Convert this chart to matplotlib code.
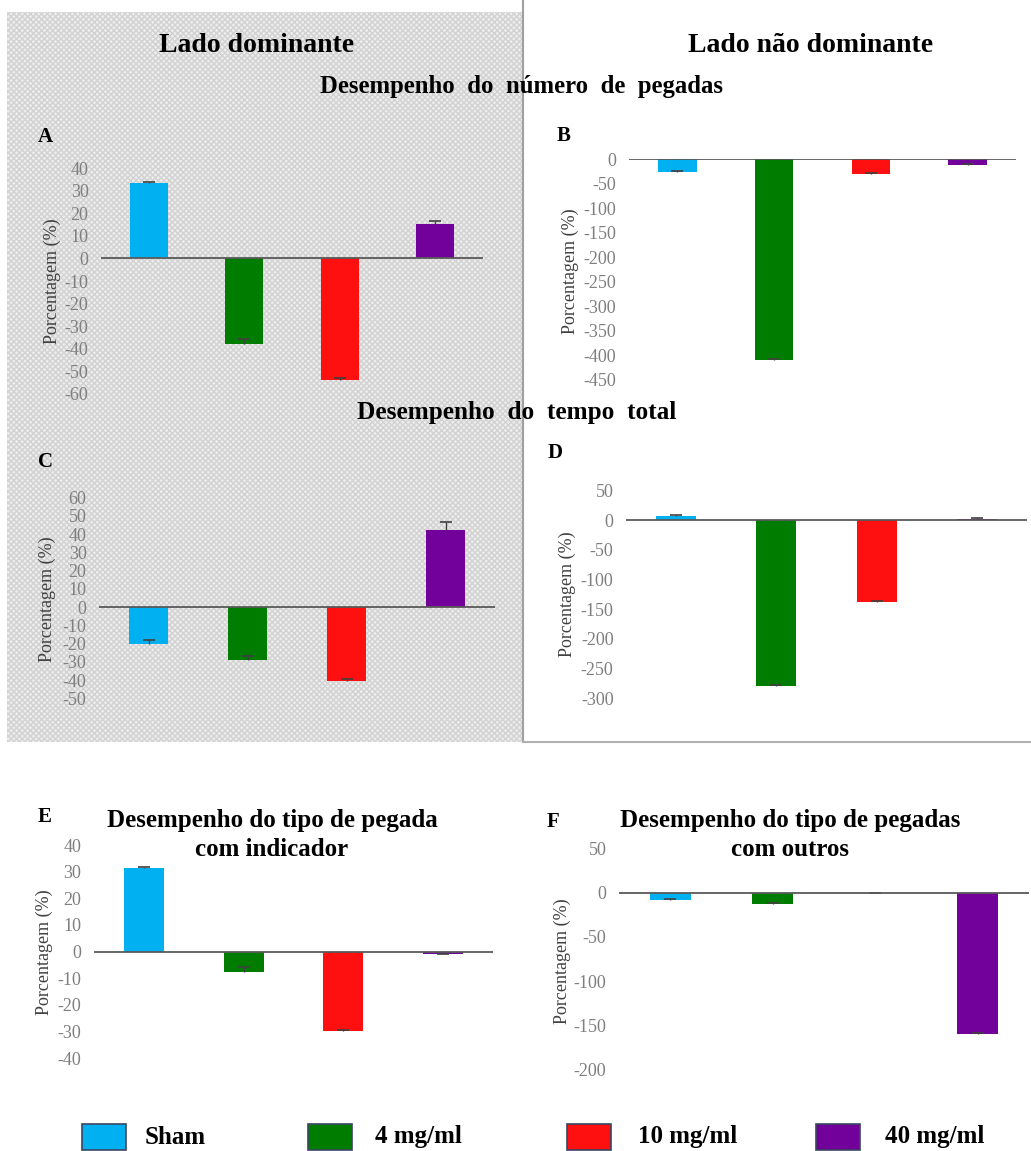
import matplotlib
matplotlib.use("Agg")
import matplotlib.pyplot as plt
from matplotlib.patches import Rectangle
from matplotlib.lines import Line2D
import numpy as np

# ---------------- data ----------------
groups = ["Sham", "4 mg/ml", "10 mg/ml", "40 mg/ml"]
colors = ["#00B0F0", "#007D00", "#FF1010", "#72009A"]

vals_A = [33.3, -37.8, -54.0, 15.4]
err_A = [0.5, 2.0, 1.0, 1.0]
vals_B = [-25.8, -409.0, -31.0, -12.2]
err_B = [2.0, 2.0, 2.0, 2.0]
vals_C = [-20.1, -29.2, -40.6, 42.4]
err_C = [1.8, 2.2, 1.0, 4.2]
vals_D = [7.2, -279.5, -137.5, 2.8]
err_D = [2.0, 2.0, 2.0, 1.0]
vals_E = [31.4, -7.7, -29.7, -1.0]
err_E = [0.5, 2.1, 0.4, 0.3]
vals_F = [-8.3, -13.1, -0.5, -159.7]
err_F = [1.0, 1.0, 0.5, 1.0]

ticks_A = list(range(-60, 41, 10))
ticks_B = list(range(-450, 1, 50))
ticks_C = list(range(-50, 61, 10))
ticks_D = list(range(-300, 51, 50))
ticks_E = list(range(-40, 41, 10))
ticks_F = list(range(-200, 51, 50))

ylabel = "Porcentagem (%)"

# ---------------- figure ----------------
W, H = 1031, 1151
fig = plt.figure(figsize=(W / 100, H / 100), dpi=100)
fig.patch.set_facecolor("white")
SERIF = ["Liberation Serif", "DejaVu Serif"]


def fx(x):
    return x / W


def fy(y):
    return 1 - y / H


# hatched background (left half)
bg = Rectangle((fx(7), fy(742)), fx(522) - fx(7), fy(12) - fy(742),
               transform=fig.transFigure, facecolor="#ededed",
               edgecolor="#d2d2d2", hatch="xxxxxx", linewidth=0, zorder=-5)
fig.patches.append(bg)
# border of right panel
fig.lines.append(Line2D([fx(523), fx(523)], [fy(0), fy(742)], transform=fig.transFigure,
                        color="#a0a0a0", lw=1.5, zorder=-4))
fig.lines.append(Line2D([fx(523), fx(1031)], [fy(742), fy(742)], transform=fig.transFigure,
                        color="#b0b0b0", lw=1.5, zorder=-4))


def panel(x0, x1, ytop, ybot, vals, errs, ticks, letter, lpos, ylab_pos):
    ax = fig.add_axes([fx(x0), fy(ybot), fx(x1) - fx(x0), fy(ytop) - fy(ybot)])
    ax.set_facecolor("none")
    x = np.arange(len(vals))
    ax.bar(x, vals, width=0.4, color=colors, zorder=2)
    v = np.array(vals)
    e = np.array(errs)
    tip = v + e
    ax.vlines(x, v, tip, color="#404040", lw=1, zorder=3)
    ax.plot(x, tip, ls="none", marker="_", ms=9, mew=1.2, color="#404040", zorder=3)
    ax.axhline(0, color="#595959", lw=1.3, zorder=4)
    ax.set_xlim(-0.5, len(vals) - 0.5)
    ax.set_ylim(min(ticks), max(ticks))
    ax.set_yticks(ticks)
    ax.set_yticklabels([str(t) for t in ticks], family=SERIF, fontsize=13, color="#7f7f7f")
    ax.tick_params(axis="y", length=0, pad=9)
    ax.set_xticks([])
    for s in ax.spines.values():
        s.set_visible(False)
    fig.text(fx(lpos[0]), fy(lpos[1]), letter, family=SERIF, fontweight="bold",
             fontsize=15, ha="center", va="center")
    fig.text(fx(ylab_pos[0]), fy(ylab_pos[1]), ylabel, family=SERIF, fontsize=13,
             color="#404040", rotation=90, ha="center", va="center")
    return ax


panel(101, 483, 168, 394, vals_A, err_A, ticks_A, "A", (45, 137), (52, 281))
panel(629, 1016, 159, 380, vals_B, err_B, ticks_B, "B", (564, 136), (570, 271))
panel(99, 495, 497.7, 698.3, vals_C, err_C, ticks_C, "C", (45, 462), (47, 599))
panel(626, 1027, 490.5, 698.3, vals_D, err_D, ticks_D, "D", (555, 453), (567, 594))
panel(94, 493, 845, 1058.3, vals_E, err_E, ticks_E, "E", (45, 817), (44, 952))
panel(619, 1029, 848.3, 1070, vals_F, err_F, ticks_F, "F", (553, 822), (562, 961))

# titles
tkw = dict(family=SERIF, fontweight="bold", ha="center", va="center")
fig.text(fx(257), fy(46), "Lado dominante", fontsize=20, **tkw)
fig.text(fx(811), fy(46), "Lado não dominante", fontsize=20, **tkw)
fig.text(fx(521), fy(86), "Desempenho  do  número  de  pegadas", fontsize=17.8, **tkw)
fig.text(fx(517), fy(413), "Desempenho  do  tempo  total", fontsize=18.2, **tkw)
fig.text(fx(272), fy(821), "Desempenho do tipo de pegada", fontsize=18, **tkw)
fig.text(fx(272), fy(850), "com indicador", fontsize=18, **tkw)
fig.text(fx(790), fy(821), "Desempenho do tipo de pegadas", fontsize=18, **tkw)
fig.text(fx(790), fy(850), "com outros", fontsize=18, **tkw)

# legend
box_x = [82, 308, 567, 816]
text_x = [145, 375, 638, 885]
for bx, tx, c, g in zip(box_x, text_x, colors, groups):
    fig.patches.append(Rectangle((fx(bx), fy(1150)), fx(44), fy(1124) - fy(1150),
                                 transform=fig.transFigure, facecolor=c,
                                 edgecolor="#3a4660", lw=1.2))
    fig.text(fx(tx), fy(1137), g, family=SERIF, fontweight="bold", fontsize=18,
             ha="left", va="center")

fig.savefig("out.png", dpi=100)
